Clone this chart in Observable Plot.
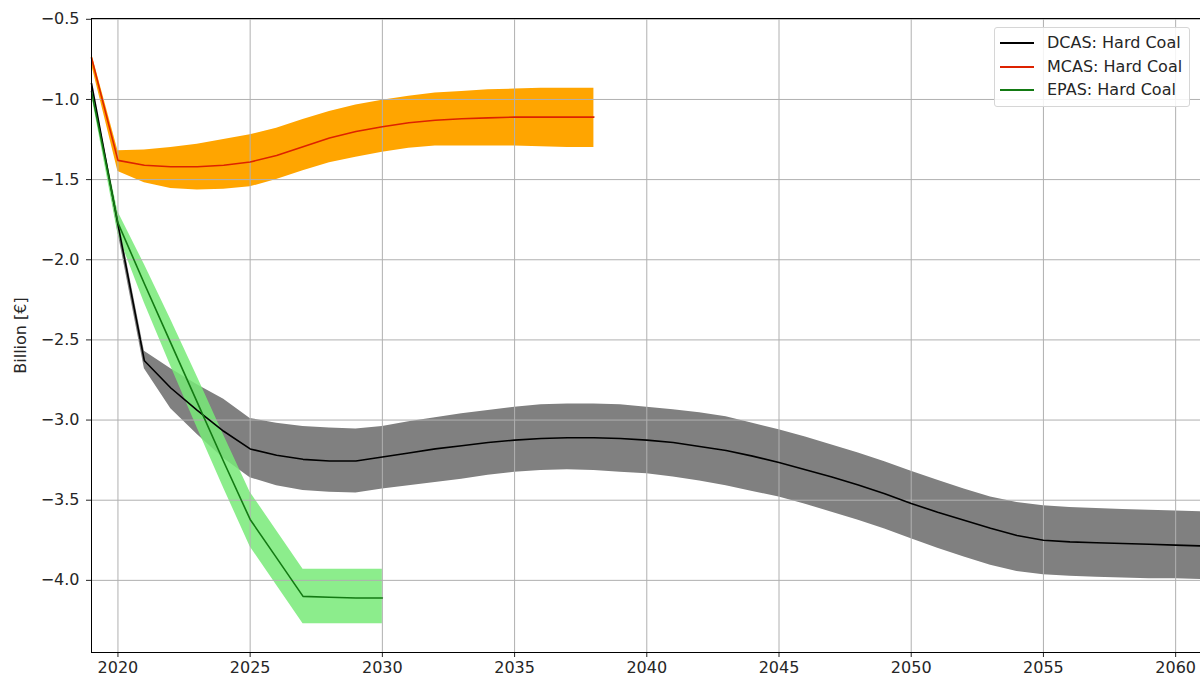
<!DOCTYPE html>
<html>
<head>
<meta charset="utf-8">
<script src="https://cdn.jsdelivr.net/npm/d3@7"></script>
<script src="https://cdn.jsdelivr.net/npm/@observablehq/plot@0.6"></script>
<style>
  html, body { margin: 0; padding: 0; background: #fff; }
  #wrap { position: relative; width: 1200px; height: 680px; font-family: "DejaVu Sans", sans-serif; }
  #legend {
    position: absolute; left: 994px; top: 27px; width: 196px; height: 80px;
    box-sizing: border-box; border: 1px solid #d6d6d6; border-radius: 3px;
    background: rgba(255,255,255,0.85); font-size: 16px; color: #262626;
  }
  #legend .row { position: absolute; left: 0; height: 20px; line-height: 20px; white-space: nowrap; }
  #legend .sw { position: absolute; left: 5px; top: 9px; width: 34px; height: 0; border-top: 2px solid; }
  #legend .lab { position: absolute; left: 52px; top: 0; }
</style>
</head>
<body>
<div id="wrap">
  <div id="chart"></div>
  <div id="legend"></div>
</div>
<script>
// Hard coal results per scenario, billion euro: central estimate with low/high band

// DCAS, 2019-2061
const dcasYears = [2019, 2020, 2021, 2022, 2023, 2024, 2025, 2026, 2027, 2028, 2029, 2030,
  2031, 2032, 2033, 2034, 2035, 2036, 2037, 2038, 2039, 2040, 2041, 2042, 2043, 2044, 2045,
  2046, 2047, 2048, 2049, 2050, 2051, 2052, 2053, 2054, 2055, 2056, 2057, 2058, 2059, 2060, 2061];
const dcasMean = [-0.90, -1.78, -2.63, -2.80, -2.94, -3.07, -3.18, -3.22, -3.245, -3.255, -3.255, -3.23,
  -3.205, -3.18, -3.16, -3.14, -3.125, -3.115, -3.11, -3.11, -3.115, -3.125, -3.14, -3.165, -3.19, -3.225, -3.265,
  -3.31, -3.355, -3.405, -3.46, -3.52, -3.575, -3.625, -3.675, -3.72, -3.75, -3.76, -3.765, -3.77, -3.775, -3.78, -3.785];
const dcasHigh = [-0.89, -1.73, -2.57, -2.68, -2.78, -2.87, -2.99, -3.02, -3.04, -3.05, -3.055, -3.04,
  -3.01, -2.985, -2.96, -2.94, -2.92, -2.905, -2.90, -2.90, -2.905, -2.92, -2.935, -2.955, -2.98, -3.02, -3.06,
  -3.105, -3.155, -3.205, -3.26, -3.32, -3.375, -3.43, -3.48, -3.515, -3.535, -3.545, -3.552, -3.558, -3.563, -3.568, -3.572];
const dcasLow = [-0.91, -1.83, -2.68, -2.93, -3.09, -3.24, -3.36, -3.41, -3.44, -3.45, -3.455, -3.43,
  -3.41, -3.39, -3.37, -3.345, -3.325, -3.315, -3.31, -3.315, -3.325, -3.335, -3.355, -3.38, -3.41, -3.445, -3.48,
  -3.525, -3.575, -3.625, -3.68, -3.74, -3.80, -3.855, -3.905, -3.945, -3.965, -3.975, -3.98, -3.985, -3.99, -3.99, -3.995];

// MCAS, 2019-2038
const mcasYears = [2019, 2020, 2021, 2022, 2023, 2024, 2025, 2026, 2027, 2028, 2029, 2030,
  2031, 2032, 2033, 2034, 2035, 2036, 2037, 2038];
const mcasMean = [-0.74, -1.38, -1.41, -1.42, -1.42, -1.41, -1.39, -1.35, -1.295, -1.24, -1.20, -1.17,
  -1.145, -1.13, -1.12, -1.115, -1.11, -1.11, -1.11, -1.11];
const mcasHigh = [-0.71, -1.32, -1.315, -1.30, -1.28, -1.25, -1.22, -1.18, -1.125, -1.075, -1.035, -1.005,
  -0.98, -0.96, -0.95, -0.94, -0.935, -0.93, -0.93, -0.93];
const mcasLow = [-0.78, -1.45, -1.52, -1.555, -1.565, -1.56, -1.545, -1.50, -1.445, -1.395, -1.36, -1.33,
  -1.305, -1.29, -1.29, -1.29, -1.29, -1.295, -1.30, -1.30];

// EPAS, 2019-2030
const epasYears = [2019, 2020, 2021, 2022, 2023, 2024, 2025, 2026, 2027, 2028, 2029, 2030];
const epasMean = [-0.95, -1.77, -2.15, -2.52, -2.89, -3.26, -3.62, -3.86, -4.10, -4.105, -4.11, -4.11];
const epasHigh = [-0.93, -1.70, -2.03, -2.375, -2.73, -3.095, -3.45, -3.69, -3.93, -3.93, -3.93, -3.93];
const epasLow = [-0.97, -1.84, -2.27, -2.665, -3.05, -3.425, -3.79, -4.03, -4.27, -4.27, -4.27, -4.27];

// Axis ticks
const xTicks = [2020, 2025, 2030, 2035, 2040, 2045, 2050, 2055, 2060];
const yTicks = [-0.5, -1.0, -1.5, -2.0, -2.5, -3.0, -3.5, -4.0];

const series = [
  {name: "DCAS: Hard Coal", line: "#000000", band: "#808080", bandOpacity: 1,
   years: dcasYears, mean: dcasMean, lo: dcasLow, hi: dcasHigh},
  {name: "MCAS: Hard Coal", line: "#dd2200", band: "#ffa500", bandOpacity: 1,
   years: mcasYears, mean: mcasMean, lo: mcasLow, hi: mcasHigh},
  {name: "EPAS: Hard Coal", line: "#137a13", band: "#78ea78", bandOpacity: 0.85,
   years: epasYears, mean: epasMean, lo: epasLow, hi: epasHigh}
];
const tables = series.map(s => s.years.map((year, i) => ({year, mean: s.mean[i], lo: s.lo[i], hi: s.hi[i]})));

const xDomain = [2019, 2060.94];
const yDomain = [-4.45, -0.495];
const minus = v => v.toFixed(1).replace("-", "\u2212");

const chart = Plot.plot({
  width: 1200,
  height: 680,
  marginLeft: 91,
  marginRight: 0,
  marginTop: 18,
  marginBottom: 28,
  style: {fontFamily: "DejaVu Sans, sans-serif", fontSize: "16px", color: "#262626", background: "#fff"},
  x: {domain: xDomain, ticks: xTicks, tickFormat: d => String(d), tickSize: 5, tickPadding: 4, label: null},
  y: {domain: yDomain, ticks: yTicks, tickFormat: minus, tickSize: 5, tickPadding: 7, label: null},
  marks: [
    // uncertainty bands
    ...series.map((s, k) => Plot.areaY(tables[k], {
      x: "year", y1: "lo", y2: "hi", fill: s.band, fillOpacity: s.bandOpacity
    })),
    // grid sits above the bands, below the lines
    Plot.gridX(xTicks, {stroke: "#b0b0b0", strokeOpacity: 1, strokeWidth: 1}),
    Plot.gridY(yTicks, {stroke: "#b0b0b0", strokeOpacity: 1, strokeWidth: 1}),
    // central estimates
    ...series.map((s, k) => Plot.line(tables[k], {
      x: "year", y: "mean", stroke: s.line, strokeWidth: 1.6
    })),
    // spines
    Plot.ruleX([xDomain[0]], {stroke: "#000", strokeWidth: 1}),
    Plot.ruleY(yDomain, {stroke: "#000", strokeWidth: 1}),
    // y axis title
    Plot.text(["Billion [\u20ac]"], {
      frameAnchor: "left", textAnchor: "middle", rotate: -90, dx: -71, fontSize: 16, fill: "#262626"
    })
  ]
});
document.getElementById("chart").appendChild(chart);

// legend
const legend = document.getElementById("legend");
series.forEach((s, i) => {
  const row = document.createElement("div");
  row.className = "row";
  row.style.top = (5 + i * 23.7) + "px";
  row.style.width = "100%";
  const sw = document.createElement("span");
  sw.className = "sw";
  sw.style.borderTopColor = s.line;
  const lab = document.createElement("span");
  lab.className = "lab";
  lab.textContent = s.name;
  row.appendChild(sw);
  row.appendChild(lab);
  legend.appendChild(row);
});
</script>
</body>
</html>
